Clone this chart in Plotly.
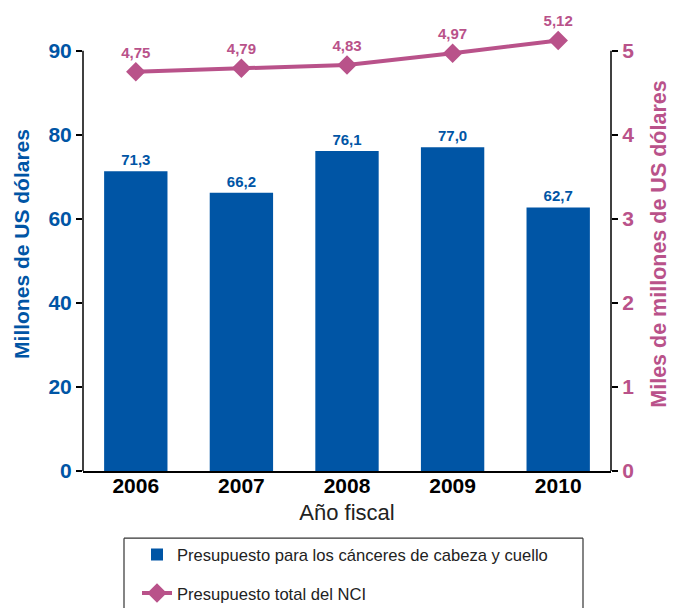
import plotly.graph_objects as go

years = ["2006", "2007", "2008", "2009", "2010"]
head_neck = [71.3, 66.2, 76.1, 77.0, 62.7]
nci_total = [4.75, 4.79, 4.83, 4.97, 5.12]
left_tickvals = [0, 20, 40, 60, 80, 100]
left_ticktext = ["0", "20", "40", "60", "80", "90"]
right_tickvals = [0, 1, 2, 3, 4, 5]

BLUE = "#0055a5"
PINK = "#b9528a"
FONT = "Liberation Sans, Arial, sans-serif"

# the photographed page is compressed vertically (623 -> 608), compensate
K = 623 / 608
DY = 2.5
W, H = 680, 623
L, R = 83, 611
T, B = (17.0) * K, (469.5) * K

def fmt(v):
    return f"{v:.1f}".replace(".", ",")

def fmt2(v):
    return f"{v:.2f}".replace(".", ",")

fig = go.Figure()
fig.add_trace(go.Bar(
    x=years, y=head_neck, name="Presupuesto para los cánceres de cabeza y cuello",
    legendgroup="a",
    marker=dict(color=BLUE, line=dict(width=0)), width=0.6,
    text=[fmt(v) for v in head_neck], textposition="outside",
    textfont=dict(color=BLUE, size=15, family=FONT, weight="bold"), cliponaxis=False,
    yaxis="y",
))
fig.add_trace(go.Scatter(
    x=years, y=nci_total, name="Presupuesto total del NCI",
    legendgroup="b",
    mode="lines+markers+text",
    line=dict(color=PINK, width=4),
    marker=dict(symbol="diamond", size=15, color=PINK),
    text=[fmt2(v) for v in nci_total], textposition="top center",
    textfont=dict(color=PINK, size=15, family=FONT, weight="bold"), cliponaxis=False,
    yaxis="y2",
))

def px_x(p):
    return (p - L) / (R - L)

def px_y(p):
    return (B - (p - DY) * K) / (B - T)

line_k = dict(color="#333333", width=1.2)

fig.update_layout(
    width=W, height=H,
    margin=dict(l=L, r=W - R, t=T, b=H - B, pad=0),
    paper_bgcolor="white", plot_bgcolor="white",
    font=dict(family=FONT),
    bargap=0.4,
    showlegend=True,
    legend=dict(
        x=px_x(137), y=px_y(538), xanchor="left", yanchor="top",
        font=dict(size=16.6, color="#222222", family=FONT),
        bgcolor="rgba(0,0,0,0)", borderwidth=0,
        tracegroupgap=14, itemwidth=30,
    ),
    xaxis=dict(
        showline=True, linecolor="black", linewidth=1.5, automargin=False,
        ticks="", ticklabelstandoff=-5,
        tickfont=dict(size=21, color="black", family=FONT, weight="bold"),
        title=dict(text="Año fiscal", font=dict(size=22, color="#222222", family=FONT), standoff=9),
        showgrid=False, zeroline=False,
    ),
    yaxis=dict(
        range=[0, 108], tickvals=left_tickvals, ticktext=left_ticktext,
        showline=False, automargin=False,
        ticks="outside", ticklen=6, tickcolor="black", tickwidth=1.5,
        tickfont=dict(size=21, color=BLUE, family=FONT, weight="bold"),
        title=dict(text="Millones de US dólares", font=dict(size=21, color=BLUE, family=FONT, weight="bold"), standoff=13),
        showgrid=False, zeroline=False,
    ),
    yaxis2=dict(
        range=[0, 5.4], tickvals=right_tickvals, overlaying="y", side="right",
        showline=False, automargin=False,
        ticks="outside", ticklen=6, tickcolor="black", tickwidth=1.5,
        tickfont=dict(size=21, color=PINK, family=FONT, weight="bold"),
        title=dict(text="Miles de millones de US dólares", font=dict(size=21.5, color=PINK, family=FONT, weight="bold"), standoff=17),
        showgrid=False, zeroline=False,
    ),
    shapes=[
        dict(type="line", xref="paper", yref="y", x0=0, x1=0, y0=0, y1=100,
             line=dict(color="black", width=1.5)),
        dict(type="line", xref="paper", yref="y2", x0=1, x1=1, y0=0, y1=5,
             line=dict(color="black", width=1.5)),
        # legend frame (open at the bottom, as in the reference crop)
        dict(type="line", xref="paper", yref="paper",
             x0=px_x(124), x1=px_x(583), y0=px_y(539), y1=px_y(539), line=line_k),
        dict(type="line", xref="paper", yref="paper",
             x0=px_x(124), x1=px_x(124), y0=px_y(539), y1=px_y(610), line=line_k),
        dict(type="line", xref="paper", yref="paper",
             x0=px_x(583), x1=px_x(583), y0=px_y(539), y1=px_y(610), line=line_k),
    ],
)

post = (
    "document.documentElement.style.overflow='hidden';"
    "document.body.style.margin='0';document.body.style.overflow='hidden';"
    "document.querySelectorAll('.plotly-graph-div').forEach(function(d){"
    "d.style.overflow='hidden';});"
    "document.querySelectorAll('.svg-container').forEach(function(d){"
    "d.style.overflow='hidden';});"
)

fig.write_html("out.html", post_script=post, config={"displayModeBar": False})
